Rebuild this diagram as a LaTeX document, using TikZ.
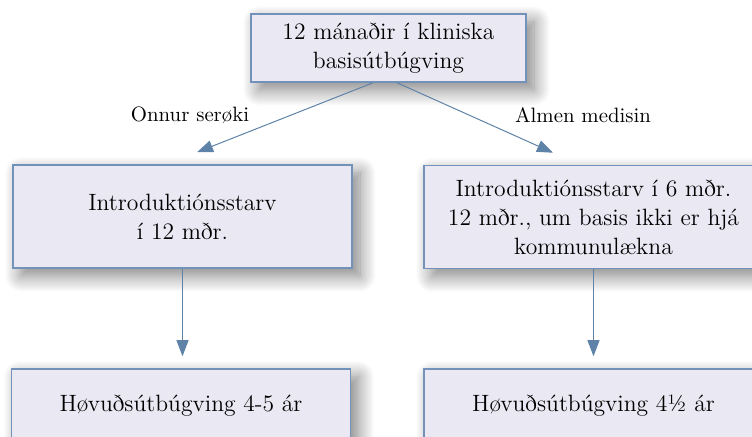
\documentclass[tikz,border=0pt]{standalone}
\usetikzlibrary{arrows.meta}
\usetikzlibrary{shadows.blur}

\definecolor{boxfill}{HTML}{EAE8F2}
\definecolor{boxline}{HTML}{7392BA}
\definecolor{arrowline}{HTML}{5F82A8}

\begin{document}
\begin{tikzpicture}[x=0.5pt, y=-0.5pt,
    stage/.style={draw=boxline, line width=0.75pt, fill=boxfill, align=center,
      inner sep=0pt, font=\fontsize{11.8}{14.5}\selectfont,
      blur shadow={shadow xshift=4pt, shadow yshift=-4pt,
        shadow blur radius=8pt, shadow blur steps=16, shadow opacity=50}},
    conn/.style={draw=arrowline, line width=0.5pt,
      -{Triangle[length=8pt, width=6pt]}},
    branch/.style={font=\fontsize{10.4}{12.5}\selectfont}]
    % Frame of the page, parts of the lower boxes are cut off
    \useasboundingbox (0,0) rectangle (752,437);
    \clip (0,0) rectangle (752,437);

    % Boxes
    \node[stage, minimum width=137.5pt, minimum height=34pt] (basis) at (388.5,48)
        {12 mánaðir í kliniska\\basisútbúgving};
    \node[stage, minimum width=169.5pt, minimum height=51.5pt] (intro12) at (182.5,216.5)
        {Introduktiónsstarv\\í 12 mðr.};
    \node[stage, minimum width=169.5pt, minimum height=51.5pt] (intro6) at (593.5,217)
        {Introduktiónsstarv í 6 mðr.\\12 mðr., um basis ikki er hjá\\kommunulækna};
    \node[stage, minimum width=169.5pt, minimum height=37pt] (hovl) at (181,406)
        {Høvuðsútbúgving 4-5 ár};
    \node[stage, minimum width=169.5pt, minimum height=37pt] (hovr) at (593.5,406)
        {Høvuðsútbúgving 4½ ár};

    % Branch labels
    \node[branch] (other) at (190,115) {Onnur serøki};
    \node[branch] (gp) at (583,115) {Almen medisin};

    % Arrows
    \draw[conn] ([xshift=-7.75pt]basis.south) -- ([xshift=7.25pt, yshift=6pt]intro12.north);
    \draw[conn] ([xshift=4.25pt]basis.south) -- ([xshift=-20.25pt, yshift=6pt]intro6.north);
    \draw[conn] (intro12.south) -- ([yshift=6pt]intro12.south |- hovl.north);
    \draw[conn] (intro6.south) -- ([yshift=6pt]intro6.south |- hovr.north);
\end{tikzpicture}
\end{document}
